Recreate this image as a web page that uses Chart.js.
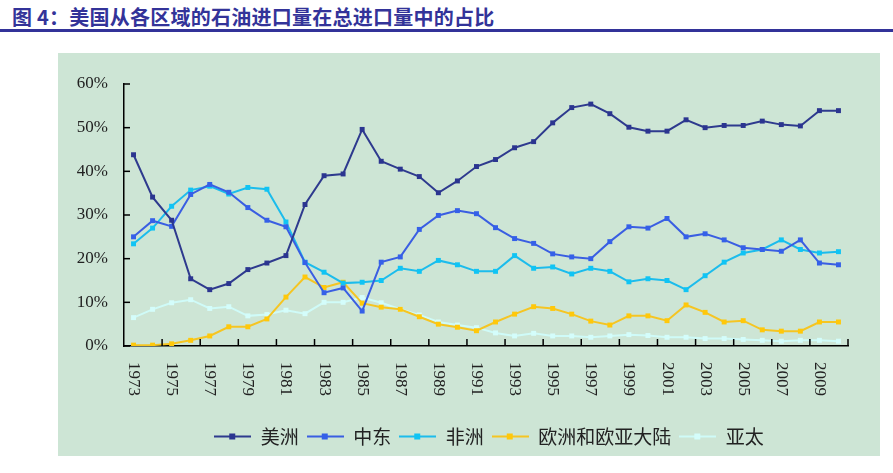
<!DOCTYPE html>
<html>
<head>
<meta charset="utf-8">
<script src="https://cdn.jsdelivr.net/npm/chart.js@4/dist/chart.umd.min.js"></script>
<style>
  body { margin: 0; background: #fff; width: 893px; height: 473px; position: relative; overflow: hidden; }
  #title { position: absolute; left: 12px; top: 2px; font: bold 20px "Noto Sans CJK SC", sans-serif; color: #333399; white-space: nowrap; letter-spacing: 0.25px; }
  #rule { position: absolute; left: 0; top: 29px; width: 893px; height: 3px; background: #333399; }
  #panel { position: absolute; left: 58px; top: 53px; width: 822px; height: 403px; background: #cde5d5; }
</style>
</head>
<body>
<div id="title">图 4：美国从各区域的石油进口量在总进口量中的占比</div>
<div id="rule"></div>
<div id="panel"><canvas id="oilChart"></canvas></div>
<script>
const years = [];
for (let y = 1973; y <= 2010; y++) years.push(String(y));

const seriesNames = ['美洲', '中东', '非洲', '欧洲和欧亚大陆', '亚太'];
const americas = [43.8, 34.1, 28.8, 15.4, 12.9, 14.3, 17.5, 19.0, 20.7, 32.4,
  39.0, 39.4, 49.6, 42.3, 40.5, 38.8, 35.1, 37.8, 41.1, 42.7,
  45.4, 46.8, 51.1, 54.6, 55.4, 53.2, 50.1, 49.2, 49.2, 51.8,
  50.0, 50.5, 50.5, 51.5, 50.7, 50.4, 53.9, 53.9];
const middleEast = [25.0, 28.7, 27.4, 34.7, 37.0, 35.2, 31.7, 28.8, 27.3, 19.1,
  12.2, 13.3, 8.0, 19.2, 20.4, 26.7, 29.9, 31.0, 30.3, 27.1,
  24.6, 23.5, 21.1, 20.4, 20.0, 23.9, 27.3, 27.0, 29.2, 25.0,
  25.7, 24.3, 22.5, 22.1, 21.7, 24.3, 19.0, 18.6];
const africa = [23.4, 27.0, 32.0, 35.7, 36.6, 34.8, 36.3, 35.9, 28.4, 19.2,
  16.9, 14.4, 14.6, 15.0, 17.8, 17.1, 19.6, 18.6, 17.1, 17.1,
  20.7, 17.8, 18.1, 16.5, 17.8, 17.1, 14.7, 15.4, 15.0, 12.9,
  16.1, 19.2, 21.3, 22.1, 24.3, 22.1, 21.3, 21.6];
const europe = [0.2, 0.2, 0.5, 1.3, 2.3, 4.4, 4.4, 6.2, 11.2, 15.8,
  13.4, 14.6, 9.8, 8.9, 8.4, 6.7, 5.0, 4.3, 3.5, 5.5,
  7.3, 9.0, 8.6, 7.3, 5.7, 4.8, 6.9, 6.9, 5.8, 9.4,
  7.7, 5.5, 5.8, 3.7, 3.4, 3.4, 5.5, 5.5];
const asiaPacific = [6.5, 8.4, 9.9, 10.6, 8.6, 9.0, 6.9, 7.2, 8.2, 7.4,
  10.0, 10.0, 11.1, 9.9, 8.4, 7.1, 5.5, 4.8, 4.2, 3.0,
  2.3, 2.9, 2.3, 2.3, 2.0, 2.3, 2.6, 2.4, 2.0, 2.0,
  1.7, 1.7, 1.5, 1.3, 1.1, 1.3, 1.3, 1.1];

const lineColors = ['#2e3a8e', '#3a5ee2', '#1cbcec', '#f5c523', '#cffbf8'];
const markColors = ['#2b3590', '#3560e8', '#10c4f4', '#ffc80a', '#d4fdfb'];

// small line+square image for the legend
function legendIcon(i) {
  const c = document.createElement('canvas');
  c.width = 37; c.height = 9;
  const g = c.getContext('2d');
  g.strokeStyle = lineColors[i];
  g.lineWidth = 2;
  g.beginPath(); g.moveTo(0, 4.5); g.lineTo(37, 4.5); g.stroke();
  g.fillStyle = markColors[i];
  g.fillRect(15, 1.5, 6, 6);
  return c;
}

const allData = [americas, middleEast, africa, europe, asiaPacific];
const datasets = allData.map((d, i) => ({
  label: seriesNames[i],
  data: d,
  borderColor: lineColors[i],
  backgroundColor: markColors[i],
  borderWidth: 2,
  pointStyle: 'rect',
  pointRadius: 3.5,
  pointBorderWidth: 0,
  tension: 0,
  fill: false
}));

// legend sits under the plot area centre, not the canvas centre
const legendShift = {
  id: 'legendShift',
  afterLayout(chart) {
    if (chart.legend) { chart.legend.left += 36; chart.legend.right += 36; }
  }
};

const axisBits = {
  id: 'axisBits',
  afterDraw(chart) {
    const ctx = chart.ctx;
    const x = chart.scales.x, y = chart.scales.y;
    const area = chart.chartArea;
    ctx.save();
    ctx.strokeStyle = '#000';
    ctx.lineWidth = 1.5;
    // inward ticks on y axis
    y.ticks.forEach((t, i) => {
      const py = y.getPixelForTick(i);
      ctx.beginPath(); ctx.moveTo(area.left, py); ctx.lineTo(area.left + 6, py); ctx.stroke();
    });
    // inward ticks on x axis, every two categories
    const w = x.getPixelForValue(1) - x.getPixelForValue(0);
    for (let i = 2; i <= years.length; i += 2) {
      const px = x.getPixelForValue(0) - w / 2 + i * w;
      ctx.beginPath(); ctx.moveTo(px, area.bottom); ctx.lineTo(px, area.bottom - 7); ctx.stroke();
    }
    // year labels, read top to bottom
    ctx.fillStyle = '#222';
    ctx.font = '17px "Liberation Serif", serif';
    ctx.textAlign = 'left';
    ctx.textBaseline = 'middle';
    years.forEach((yr, i) => {
      if (i % 2) return;
      ctx.save();
      ctx.translate(x.getPixelForValue(i), area.bottom + 16);
      ctx.rotate(Math.PI / 2);
      ctx.fillText(yr, 0, 0);
      ctx.restore();
    });
    ctx.restore();
  }
};

new Chart(document.getElementById('oilChart'), {
  type: 'line',
  data: { labels: years, datasets: datasets },
  plugins: [axisBits, legendShift],
  options: {
    responsive: true,
    maintainAspectRatio: false,
    animation: false,
    layout: { padding: { top: 31, right: 32, left: 0, bottom: 0 } },
    plugins: {
      tooltip: { enabled: false },
      legend: {
        position: 'bottom',
        labels: {
          usePointStyle: true,
          pointStyleWidth: 37,
          padding: 8,
          color: '#222',
          font: { family: '"Noto Sans CJK SC", sans-serif', size: 19 },
          generateLabels(chart) {
            return chart.data.datasets.map((ds, i) => ({
              text: ds.label,
              pointStyle: legendIcon(i),
              fillStyle: markColors[i],
              strokeStyle: lineColors[i],
              lineWidth: 0,
              fontColor: '#222',
              datasetIndex: i
            }));
          }
        }
      }
    },
    scales: {
      x: {
        offset: true,
        grid: { display: true, drawOnChartArea: false, drawTicks: false, offset: true },
        border: { color: '#000', width: 1.5 },
        ticks: { display: false },
        afterFit(scale) { scale.height = 73; }
      },
      y: {
        min: 0,
        max: 60,
        grid: { display: true, drawOnChartArea: false, drawTicks: false },
        border: { color: '#000', width: 1.5 },
        ticks: {
          stepSize: 10,
          padding: 16,
          color: '#222',
          font: { family: '"Liberation Serif", serif', size: 17 },
          callback: v => v + '%'
        },
        afterFit(scale) { scale.width = 66; }
      }
    }
  }
});
</script>
</body>
</html>
